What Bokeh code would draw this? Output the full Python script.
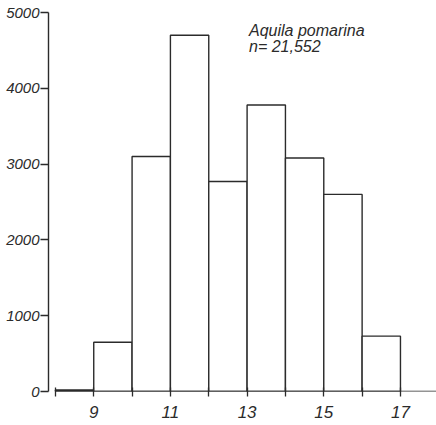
from bokeh.plotting import figure
from bokeh.models import Range1d, FixedTicker
from bokeh.core.properties import value
from bokeh.embed import file_html
from bokeh.resources import INLINE

# Histogram of counts per class (class width 1)
bin_left = [8, 9, 10, 11, 12, 13, 14, 15, 16]
bin_right = [9, 10, 11, 12, 13, 14, 15, 16, 17]
counts = [20, 650, 3100, 4700, 2770, 3780, 3080, 2600, 730]

x_tick_labels = [9, 11, 13, 15, 17]
x_minor = [8, 10, 12, 14, 16]
y_ticks = [0, 1000, 2000, 3000, 4000, 5000]

species = "Aquila pomarina"
sample = "n= 21,552"

INK = "#2b2b2b"
FONT = "Liberation Sans"

p = figure(width=436, height=425, output_backend="svg", toolbar_location=None,
           x_range=Range1d(7.82, 17.94), y_range=Range1d(0, 5000),
           min_border_left=48, min_border_right=0, min_border_top=12,
           min_border_bottom=34)
p.outline_line_color = None
p.xgrid.visible = False
p.ygrid.visible = False
p.background_fill_color = "white"
p.border_fill_color = "white"

p.quad(left=bin_left, right=bin_right, bottom=0, top=counts,
       fill_color="white", line_color=INK, line_width=1.4)

# baseline starts at the first class boundary
p.segment(x0=[bin_left[0]], x1=[17.94], y0=[0], y1=[0], line_color=INK, line_width=1.4)

xa = p.xaxis[0]
xa.ticker = FixedTicker(ticks=x_tick_labels, minor_ticks=x_minor)
xa.axis_line_color = None
xa.major_tick_in = 4
xa.major_tick_out = 5
xa.minor_tick_in = 4
xa.minor_tick_out = 5
xa.major_tick_line_color = INK
xa.minor_tick_line_color = INK
xa.major_tick_line_width = 1.3
xa.minor_tick_line_width = 1.3
xa.major_label_standoff = 9
xa.major_label_text_font = FONT
xa.major_label_text_font_style = "italic"
xa.major_label_text_font_size = "17px"
xa.major_label_text_color = INK

ya = p.yaxis[0]
ya.ticker = FixedTicker(ticks=y_ticks)
ya.minor_tick_line_color = None
ya.axis_line_color = INK
ya.axis_line_width = 1.4
ya.major_tick_in = 0
ya.major_tick_out = 8
ya.major_tick_line_color = INK
ya.major_tick_line_width = 1.3
ya.major_label_standoff = 1
ya.major_label_text_font = FONT
ya.major_label_text_font_style = "italic"
ya.major_label_text_font_size = "15px"
ya.major_label_text_color = INK

p.text(x=[13.05, 13.05], y=[4870, 4660], text=[species, sample],
       text_font=value(FONT), text_font_style="italic", text_font_size="16px",
       text_color=INK, text_baseline="top", text_align="left")

open("out.html", "w").write(file_html(p, INLINE))
